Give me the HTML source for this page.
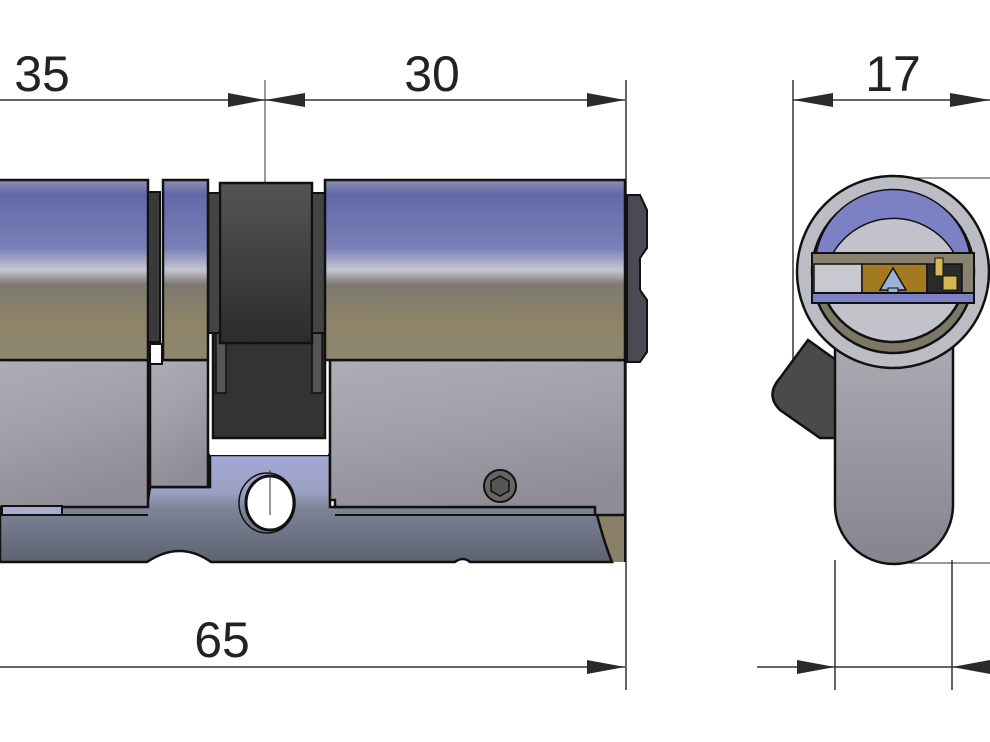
<!DOCTYPE html>
<html><head><style>
html,body{margin:0;padding:0;background:#fff;}
svg{display:block;}
text{font-family:"Liberation Sans",Arial,sans-serif;fill:#222;}
</style></head><body>
<svg width="990" height="742" viewBox="0 0 990 742" xmlns="http://www.w3.org/2000/svg">
<defs>
<linearGradient id="cyl" x1="0" y1="0" x2="0" y2="1">
<stop offset="0" stop-color="#8e90b4"/>
<stop offset="0.08" stop-color="#6468a8"/>
<stop offset="0.38" stop-color="#7b80b8"/>
<stop offset="0.5" stop-color="#c6c6d2"/>
<stop offset="0.58" stop-color="#7e7a70"/>
<stop offset="0.8" stop-color="#8f8468"/>
<stop offset="1" stop-color="#8c8672"/>
</linearGradient>
<linearGradient id="body" x1="0" y1="0" x2="0.3" y2="1">
<stop offset="0" stop-color="#aeacb4"/>
<stop offset="0.5" stop-color="#a19fa8"/>
<stop offset="1" stop-color="#8f8d96"/>
</linearGradient>
<linearGradient id="bar" x1="0" y1="0" x2="0" y2="1">
<stop offset="0" stop-color="#a4aad6"/>
<stop offset="0.35" stop-color="#9aa0c2"/>
<stop offset="0.5" stop-color="#7c8496"/>
<stop offset="1" stop-color="#5e6272"/>
</linearGradient>
<linearGradient id="dark" x1="0" y1="0" x2="0" y2="1">
<stop offset="0" stop-color="#555"/>
<stop offset="1" stop-color="#2c2c2c"/>
</linearGradient>
<linearGradient id="stem" x1="0" y1="0" x2="0" y2="1">
<stop offset="0" stop-color="#b2b0b8"/>
<stop offset="1" stop-color="#86848e"/>
</linearGradient>
</defs>

<g stroke="#333" stroke-width="1.5" fill="none">
<line x1="0" y1="100" x2="625" y2="100"/>
<line x1="265" y1="80" x2="265" y2="530" stroke-width="1"/>
<line x1="626" y1="80" x2="626" y2="690"/>
<line x1="0" y1="667" x2="625" y2="667"/>
<line x1="793" y1="80" x2="793" y2="390"/>
<line x1="793" y1="100" x2="990" y2="100"/>
<line x1="893" y1="178" x2="990" y2="178" stroke-width="1"/>
<line x1="893" y1="563" x2="990" y2="563" stroke-width="1"/>
<line x1="835" y1="560" x2="835" y2="690"/>
<line x1="952" y1="560" x2="952" y2="690"/>
<line x1="757" y1="667" x2="990" y2="667"/>
</g>
<g fill="#2a2a2a">
<polygon points="265,100 228,93 228,107"/>
<polygon points="265,100 305,93 305,107"/>
<polygon points="625,100 587,93 587,107"/>
<polygon points="625,667 587,660 587,674"/>
<polygon points="793,100 833,93 833,107"/>
<polygon points="990,100 950,93 950,107"/>
<polygon points="835,667 797,660 797,674"/>
<polygon points="952,667 990,660 990,674"/>
</g>
<text x="42" y="91" font-size="50" text-anchor="middle">35</text>
<text x="432" y="91" font-size="50" text-anchor="middle">30</text>
<text x="222" y="657" font-size="50" text-anchor="middle">65</text>
<text x="893" y="91" font-size="50" text-anchor="middle">17</text>

<g stroke="#111" stroke-width="2.5">
<path d="M595,515 Q605,545 612,562 L625,562 L625,515 Z" fill="#8a8068" stroke="none"/>
<path d="M0,500 L148,500 L150,487 L210,487 L210,455 L330,455 L330,507 L597,507 L597,515 Q605,545 612,562 L470,562 Q463,556 455,562 L211,562 Q180,540 147,562 L0,562 Z" fill="url(#bar)"/>
<line x1="625" y1="515" x2="625" y2="562" stroke-width="2"/>
<rect x="-5" y="360" width="153" height="147" fill="url(#body)"/>
<rect x="150" y="360" width="58" height="127" fill="url(#body)"/>
<path d="M330,360 L625,360 L625,515 L595,515 L595,507 L335,507 L335,500 L330,500 Z" fill="url(#body)"/>
<line x1="335" y1="515" x2="597" y2="515" stroke-width="2"/>
<line x1="0" y1="515" x2="148" y2="515" stroke-width="2"/>
<rect x="2" y="506" width="60" height="9" fill="#a8add0" stroke-width="2"/>
<rect x="210" y="360" width="118" height="95" fill="#fff" stroke="none"/>
<rect x="213" y="330" width="112" height="108" fill="#333"/>
<rect x="216" y="333" width="10" height="60" fill="#555" stroke-width="1.5"/>
<rect x="312" y="333" width="10" height="60" fill="#555" stroke-width="1.5"/>
<rect x="220" y="183" width="92" height="160" fill="url(#dark)"/>
<rect x="208" y="193" width="12" height="140" fill="#444" stroke-width="2"/>
<rect x="312" y="193" width="13" height="140" fill="#444" stroke-width="2"/>
<rect x="-5" y="180" width="153" height="180" fill="url(#cyl)"/>
<rect x="148" y="192" width="12" height="150" fill="#3a3a3a" stroke-width="2"/>
<rect x="150" y="344" width="12" height="20" fill="#fff" stroke-width="2"/>
<rect x="163" y="180" width="45" height="180" fill="url(#cyl)"/>
<rect x="325" y="180" width="300" height="180" fill="url(#cyl)"/>
<path d="M627,195 L640,195 L647,210 L647,248 L640,258 L640,290 L647,300 L647,352 L640,362 L627,362 Z" fill="#4a4a55" stroke-width="2"/>
<ellipse cx="267" cy="503" rx="28" ry="30" fill="none" stroke-width="1.5"/>
<ellipse cx="270" cy="503" rx="24" ry="27" fill="#fff" stroke-width="3"/>
<circle cx="500" cy="486" r="16" fill="#666" stroke-width="2"/>
<polygon points="500,476 509,481 509,491 500,496 491,491 491,481" fill="#555" stroke-width="1.5"/>
</g>
<line x1="270" y1="470" x2="270" y2="515" stroke="#333" stroke-width="1"/>

<g stroke="#111" stroke-width="2.5">
<path d="M808,340 L780,378 Q765,395 780,410 L820,438 L836,438 L836,360 Z" fill="#4a4a4a"/>
<path d="M835,300 L835,505 A59,59 0 0 0 953,505 L953,300 Z" fill="url(#stem)"/>
<circle cx="893" cy="272" r="96" fill="#bcbcc4"/>
<circle cx="893" cy="272" r="81" fill="#7c7868"/>
<circle cx="893" cy="268" r="74" fill="#c2c2ca"/>
<path d="M816,255 A78,78 0 0 1 970,255 L955,255 A70,70 0 0 0 832,255 Z" fill="#7c80c4" stroke-width="1.5"/>
<rect x="812" y="253" width="162" height="43" fill="#8a8270" stroke-width="2"/>
<rect x="814" y="264" width="48" height="29" fill="#c8c8d0" stroke-width="1.5"/>
<rect x="862" y="264" width="65" height="29" fill="#a47a20" stroke-width="1.5"/>
<polygon points="880,290 893,268 906,290" fill="#9cb2d8" stroke-width="1.5"/>
<rect x="888" y="288" width="10" height="10" fill="#9cb2d8" stroke-width="1"/>
<rect x="927" y="264" width="35" height="29" fill="#2a2a2a" stroke-width="1.5"/>
<rect x="935" y="258" width="8" height="18" fill="#d6b850" stroke-width="1"/>
<rect x="943" y="276" width="14" height="14" fill="#d6b850" stroke-width="1"/>
<rect x="812" y="293" width="162" height="10" fill="#7c80c4" stroke-width="2"/>
</g>
</svg>
</body></html>
